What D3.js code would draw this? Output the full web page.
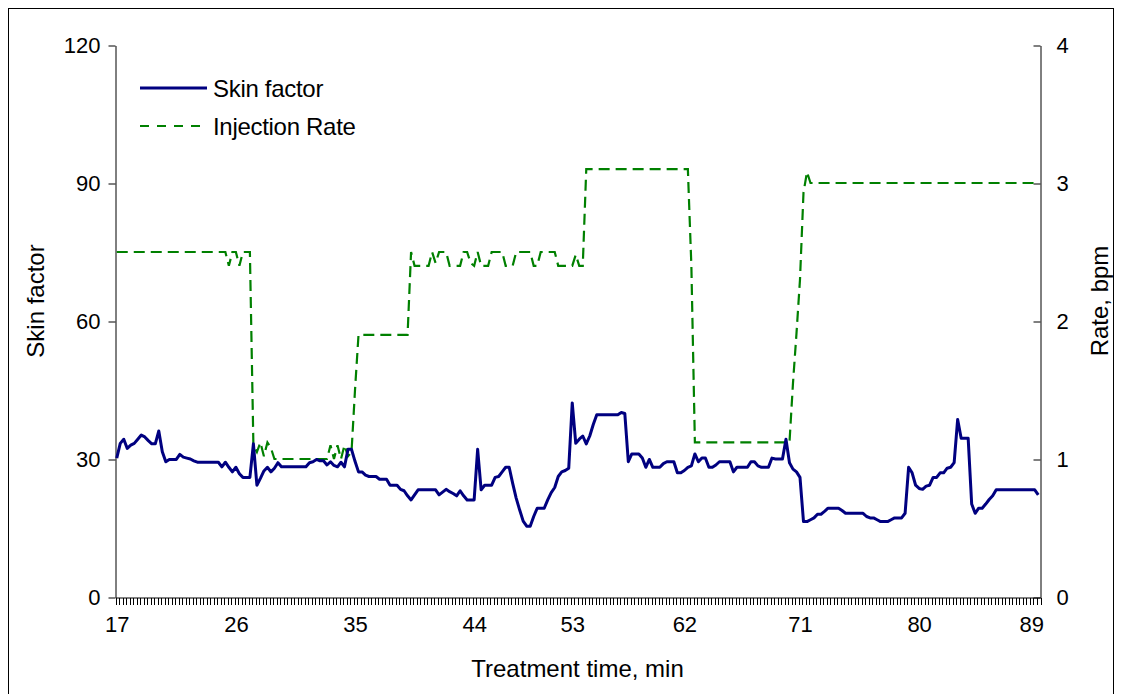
<!DOCTYPE html>
<html><head><meta charset="utf-8">
<script src="https://cdn.jsdelivr.net/npm/d3@7"></script>
<style>
body{margin:0;background:#fff}
svg{display:block}
text{font-family:"Liberation Sans",Arial,sans-serif;fill:#000}
</style>
</head><body>
<svg id="chart" width="1122" height="694"></svg>
<script>
// ---- data ----
const skinFactor = [
 30.2,33.4,34.3,32.3,33.0,33.4,34.3,35.2,34.8,34.0,
 33.3,33.3,36.1,31.6,29.4,29.9,29.9,29.9,31.0,30.4,
 30.2,30.0,29.6,29.3,29.3,29.3,29.3,29.3,29.3,29.3,
 28.3,29.3,28.2,27.2,28.2,26.8,26.0,26.0,26.0,33.3,
 24.3,25.8,27.4,28.2,27.2,28.0,29.2,28.3,28.3,28.3,
 28.3,28.3,28.3,28.3,28.3,29.2,29.4,29.9,29.6,29.6,
 28.7,29.4,28.6,28.3,29.3,28.3,32.1,32.1,29.5,27.2,
 27.2,26.5,26.2,26.2,26.2,25.6,25.6,25.6,24.3,24.3,
 24.3,23.4,23.1,22.0,21.1,22.2,23.3,23.3,23.3,23.3,
 23.3,23.3,22.2,22.8,23.4,22.9,22.5,22.0,23.1,22.0,
 21.1,21.1,21.1,32.1,23.3,24.3,24.3,24.3,26.0,26.2,
 27.2,28.2,28.2,24.7,21.5,18.9,16.5,15.4,15.4,17.5,
 19.3,19.3,19.3,21.1,22.7,23.8,26.2,27.2,27.5,28.0,
 42.2,33.4,34.3,35.0,33.3,35.0,37.5,39.6,39.6,39.6,
 39.6,39.6,39.6,39.6,40.1,39.9,29.4,31.1,31.1,31.1,
 30.2,28.2,29.9,28.2,28.2,28.2,29.0,29.4,29.4,29.4,
 27.0,27.0,27.5,28.2,28.5,31.1,29.4,30.2,30.2,28.2,
 28.2,28.7,29.4,29.4,29.4,29.4,27.2,28.2,28.2,28.2,
 28.2,29.4,29.4,28.5,28.2,28.2,28.2,30.2,30.0,30.0,
 30.0,34.3,29.2,27.8,27.2,26.0,16.4,16.4,16.8,17.2,
 18.0,18.0,18.6,19.3,19.3,19.3,19.3,18.8,18.2,18.2,
 18.2,18.2,18.2,18.2,17.5,17.2,17.2,16.8,16.4,16.4,
 16.4,16.8,17.2,17.2,17.2,18.2,28.2,27.0,24.3,23.6,
 23.4,24.1,24.3,26.0,26.0,27.0,27.0,28.0,28.2,29.2,
 38.6,34.5,34.5,34.5,20.2,18.2,19.3,19.3,20.2,21.2,
 22.0,23.3,23.3,23.3,23.3,23.3,23.3,23.3,23.3,23.3,
 23.3,23.3,23.3,22.2
];
const injectionRate = [
 2.5,2.5,2.5,2.5,2.5,2.5,2.5,2.5,2.5,2.5,
 2.5,2.5,2.5,2.5,2.5,2.5,2.5,2.5,2.5,2.5,
 2.5,2.5,2.5,2.5,2.5,2.5,2.5,2.5,2.5,2.5,
 2.5,2.5,2.4,2.5,2.5,2.4,2.5,2.5,2.5,1.1,
 1.05,1.12,1.02,1.12,1.08,1.0,1.0,1.0,1.0,1.0,
 1.0,1.0,1.0,1.0,1.0,1.0,1.0,1.0,1.0,1.0,
 1.0,1.1,1.0,1.1,1.0,1.1,1.02,1.05,1.5,1.9,
 1.9,1.9,1.9,1.9,1.9,1.9,1.9,1.9,1.9,1.9,
 1.9,1.9,1.9,1.9,2.5,2.4,2.4,2.4,2.4,2.4,
 2.5,2.42,2.5,2.5,2.5,2.4,2.4,2.4,2.4,2.5,
 2.5,2.42,2.4,2.5,2.4,2.4,2.4,2.5,2.5,2.5,
 2.5,2.4,2.4,2.4,2.5,2.5,2.5,2.5,2.5,2.4,
 2.4,2.5,2.5,2.5,2.5,2.5,2.4,2.4,2.4,2.4,
 2.4,2.48,2.4,2.4,3.1,3.1,3.1,3.1,3.1,3.1,
 3.1,3.1,3.1,3.1,3.1,3.1,3.1,3.1,3.1,3.1,
 3.1,3.1,3.1,3.1,3.1,3.1,3.1,3.1,3.1,3.1,
 3.1,3.1,3.1,3.1,2.4,1.12,1.12,1.12,1.12,1.12,
 1.12,1.12,1.12,1.12,1.12,1.12,1.12,1.12,1.12,1.12,
 1.12,1.12,1.12,1.12,1.12,1.12,1.12,1.12,1.12,1.12,
 1.12,1.12,1.12,1.55,1.91,2.3,2.93,3.08,3.0,3.0,
 3.0,3.0,3.0,3.0,3.0,3.0,3.0,3.0,3.0,3.0,
 3.0,3.0,3.0,3.0,3.0,3.0,3.0,3.0,3.0,3.0,
 3.0,3.0,3.0,3.0,3.0,3.0,3.0,3.0,3.0,3.0,
 3.0,3.0,3.0,3.0,3.0,3.0,3.0,3.0,3.0,3.0,
 3.0,3.0,3.0,3.0,3.0,3.0,3.0,3.0,3.0,3.0,
 3.0,3.0,3.0,3.0,3.0,3.0,3.0,3.0,3.0,3.0,
 3.0,3.0,3.0,3.0
];
const xTickLabels = ["17","26","35","44","53","62","71","80","89"];
const xTickCategory = [0,34,68,102,130,162,195,229,261];
const leftTicks = [0,30,60,90,120];
const rightTicks = [0,1,2,3,4];
const seriesNames = ["Skin factor","Injection Rate"];
const axisTitles = {x:"Treatment time, min", yLeft:"Skin factor", yRight:"Rate, bpm"};

// ---- layout ----
const plot = {left:115, right:1040, top:45, bottom:597};
const svg = d3.select("#chart");
const N = skinFactor.length;

svg.append("rect").attr("x",8.5).attr("y",8.5).attr("width",1105).attr("height",700)
  .attr("fill","none").attr("stroke","#000").attr("stroke-width",1);

const x = d3.scaleLinear().domain([0,N]).range([plot.left,plot.right]);
const yL = d3.scaleLinear().domain([0,120]).range([plot.bottom,plot.top]);
const yR = d3.scaleLinear().domain([0,4]).range([plot.bottom,plot.top]);

function styleAxis(g){
  g.selectAll("path.domain").attr("stroke","#000").attr("stroke-width",1);
  g.selectAll(".tick line").attr("stroke","#000").attr("stroke-width",1);
  g.selectAll("text").attr("font-family",'"Liberation Sans",Arial,sans-serif').attr("fill","#000");
}

// bottom axis: a tick at every category boundary
const gxMinor = svg.append("g").attr("transform",`translate(0.5,${plot.bottom+0.5})`)
  .call(d3.axisBottom(x).tickValues(d3.range(0,N+1)).tickSize(7).tickSizeOuter(0).tickFormat(""));
styleAxis(gxMinor);
gxMinor.selectAll(".tick line").attr("shape-rendering","crispEdges");

const gxLab = svg.append("g").attr("transform",`translate(0,${plot.bottom})`)
  .call(d3.axisBottom(x).tickValues(xTickCategory.map(c=>c+0.5)).tickSize(0).tickPadding(19)
    .tickFormat((d,i)=>xTickLabels[i]));
gxLab.select("path.domain").remove();
styleAxis(gxLab);
gxLab.selectAll("text").attr("font-size",22);

// left axis
const gyL = svg.append("g").attr("transform",`translate(${plot.left+0.5},0.5)`)
  .call(d3.axisLeft(yL).tickValues(leftTicks).tickSize(7).tickSizeOuter(0).tickPadding(8).tickFormat(d3.format("d")));
styleAxis(gyL);
gyL.selectAll("text").attr("font-size",22);

// right axis (ticks point inward)
const gyR = svg.append("g").attr("transform",`translate(${plot.right+0.5},0.5)`)
  .call(d3.axisRight(yR).tickValues(rightTicks).tickSizeInner(-7).tickSizeOuter(0).tickPadding(16).tickFormat(d3.format("d")));
styleAxis(gyR);
gyR.selectAll("text").attr("font-size",22);

// ---- series ----
const lineSkin = d3.line().x((d,i)=>x(i+0.5)).y(d=>yL(d));
const lineRate = d3.line().x((d,i)=>x(i+0.5)).y(d=>yR(d));

svg.append("path").datum(injectionRate).attr("d",lineRate)
  .attr("fill","none").attr("stroke","#008000").attr("stroke-width",2.2)
  .attr("stroke-dasharray","11,6");
svg.append("path").datum(skinFactor).attr("d",lineSkin)
  .attr("fill","none").attr("stroke","#000080").attr("stroke-width",3)
  .attr("stroke-linejoin","round");

// ---- legend ----
const legY = [88,126];
const lg = svg.append("g");
lg.append("line").attr("x1",140).attr("x2",207).attr("y1",legY[0]).attr("y2",legY[0])
  .attr("stroke","#000080").attr("stroke-width",3);
lg.append("line").attr("x1",140).attr("x2",207).attr("y1",legY[1]).attr("y2",legY[1])
  .attr("stroke","#008000").attr("stroke-width",2.2).attr("stroke-dasharray","9,8");
seriesNames.forEach((s,i)=>{
  lg.append("text").attr("x",213).attr("y",legY[i]).attr("dy","0.36em")
    .attr("font-size",24).attr("letter-spacing",-0.3).text(s);
});

// ---- axis titles ----
svg.append("text").attr("x",(plot.left+plot.right)/2).attr("y",677)
  .attr("text-anchor","middle").attr("font-size",24).text(axisTitles.x);
svg.append("text").attr("transform","translate(44,301) rotate(-90)")
  .attr("text-anchor","middle").attr("font-size",24).text(axisTitles.yLeft);
svg.append("text").attr("transform","translate(1108,301) rotate(-90)")
  .attr("text-anchor","middle").attr("font-size",24).text(axisTitles.yRight);
</script>
</body></html>
